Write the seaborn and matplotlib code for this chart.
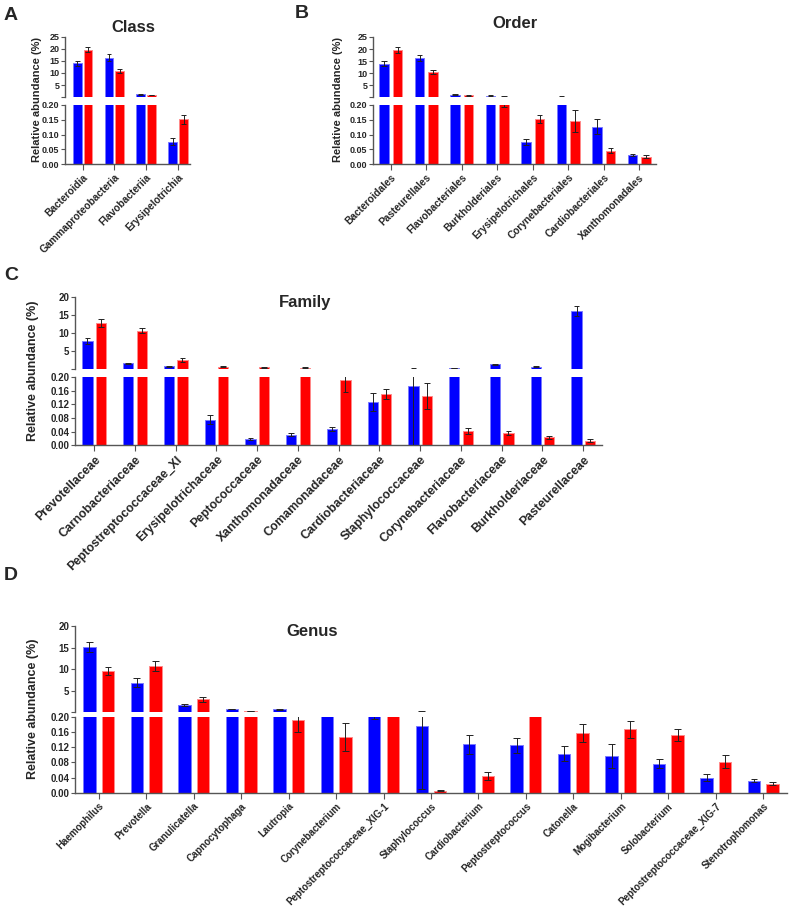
import matplotlib
matplotlib.use("Agg")
import matplotlib.pyplot as plt
import numpy as np
import pandas as pd
import seaborn as sns

# ---- data (relative abundance %, mean and SEM per group) ----
class_names = ["Bacteroidia", "Gammaproteobacteria", "Flavobacteriia", "Erysipelotrichia"]
class_blue = [14.0, 16.3, 1.2, 0.076]
class_red = [19.7, 11.0, 0.9, 0.152]
class_blue_err = [1.0, 1.4, 0.15, 0.011]
class_red_err = [1.2, 0.8, 0.1, 0.015]

order_names = ["Bacteroidales", "Pasteurellales", "Flavobacteriales", "Burkholderiales",
               "Erysipelotrichales", "Corynebacteriales", "Cardiobacteriales", "Xanthomonadales"]
order_blue = [14.0, 16.2, 1.2, 0.75, 0.076, 0.4, 0.127, 0.031]
order_red = [19.7, 10.6, 0.9, 0.3, 0.152, 0.146, 0.045, 0.025]
order_blue_err = [1.1, 1.3, 0.15, 0.1, 0.01, 0.05, 0.025, 0.003]
order_red_err = [1.2, 0.9, 0.1, 0.107, 0.014, 0.037, 0.008, 0.005]

fam_names = ["Prevotellaceae", "Carnobacteriaceae", "Peptostreptococcaceae_XI", "Erysipelotrichaceae",
             "Peptococcaceae", "Xanthomonadaceae", "Comamonadaceae", "Cardiobacteriaceae",
             "Staphylococcaceae", "Corynebacteriaceae", "Flavobacteriaceae", "Burkholderiaceae",
             "Pasteurellaceae"]
fam_blue = [7.9, 1.7, 0.85, 0.075, 0.018, 0.031, 0.048, 0.126, 0.175, 0.4, 1.4, 0.8, 16.2]
fam_red = [12.9, 10.7, 2.6, 0.8, 0.6, 0.5, 0.19, 0.15, 0.145, 0.042, 0.035, 0.023, 0.014]
fam_blue_err = [0.95, 0.2, 0.15, 0.013, 0.003, 0.004, 0.006, 0.026, 0.175, 0.05, 0.2, 0.1, 1.3]
fam_red_err = [1.0, 0.7, 0.6, 0.15, 0.1, 0.08, 0.035, 0.015, 0.038, 0.01, 0.006, 0.005, 0.005]

gen_names = ["Haemophilus", "Prevotella", "Granulicatella", "Capnocytophaga", "Lautropia",
             "Corynebacterium", "Peptostreptococcaceae_XIG-1", "Staphylococcus", "Cardiobacterium",
             "Peptostreptococcus", "Catonella", "Mogibacterium", "Solobacterium",
             "Peptostreptococcaceae_XIG-7", "Stenotrophomonas"]
gen_blue = [15.2, 6.9, 1.75, 0.8, 0.75, 0.21, 0.21, 0.175, 0.127, 0.125, 0.103, 0.097, 0.076, 0.039, 0.032]
gen_red = [9.6, 10.85, 3.1, 0.3, 0.191, 0.146, 0.22, 0.005, 0.044, 0.21, 0.157, 0.167, 0.151, 0.082, 0.024]
gen_blue_err = [1.2, 1.0, 0.15, 0.08, 0.1, 0.005, 0.015, 0.165, 0.025, 0.02, 0.02, 0.031, 0.012, 0.009, 0.003]
gen_red_err = [0.85, 1.15, 0.6, 0.05, 0.03, 0.037, 0.01, 0.001, 0.01, 0.005, 0.023, 0.023, 0.016, 0.017, 0.004]

sns.set_style("ticks")
plt.rcParams["font.family"] = ["Liberation Sans", "DejaVu Sans"]
plt.rcParams["font.weight"] = "bold"
plt.rcParams["axes.labelweight"] = "bold"

W, H = 790, 908
fig = plt.figure(figsize=(W / 100, H / 100), dpi=100)
palette = {"blue": "#0000ff", "red": "#ff0000"}
edges = {"blue": "#7a7aff", "red": "#ff8a8a"}
spine_col = "#555555"
err_col = "#222222"


def box(x0, x1, ytop, ybot):
    return [x0 / W, 1 - ybot / H, (x1 - x0) / W, (ybot - ytop) / H]


def panel(names, blue, red, blue_err, red_err, xs, up, lo, up_max, up_ticks, lo_ticks,
          xlim, width, gap, fs_x, fs_y):
    '''
    broken y axis: upper axes 0.2..up_max, lower axes 0..0.2
    '''
    n = len(names)
    df = pd.DataFrame({"taxon": names * 2,
                       "group": ["blue"] * n + ["red"] * n,
                       "value": blue + red})
    errs = {"blue": blue_err, "red": red_err}
    ax_up = fig.add_axes(box(xs[0], xs[1], up[0], up[1]))
    ax_lo = fig.add_axes(box(xs[0], xs[1], lo[0], lo[1]))
    for ax in (ax_up, ax_lo):
        sns.barplot(data=df, x="taxon", y="value", hue="group", palette=palette,
                    order=names, hue_order=["blue", "red"], width=width, gap=gap,
                    errorbar=None, legend=False, saturation=1, ax=ax)
        for p in list(ax.patches):
            xc = p.get_x() + p.get_width() / 2
            i = int(round(xc))
            grp = "blue" if xc < i else "red"
            p.set_edgecolor(edges[grp])
            p.set_linewidth(0.7)
            v, e = p.get_height(), errs[grp][i]
            cw = p.get_width() * 0.28
            # error bar as clipped lines so nothing leaks across the break
            ax.vlines(xc, v - e, v + e, color=err_col, lw=0.7, zorder=4)
            ax.hlines([v - e, v + e], xc - cw, xc + cw, color=err_col, lw=0.7, zorder=4)
        ax.set_xlim(*xlim)
        ax.set_xlabel("")
        ax.set_ylabel("")
        for s in ax.spines.values():
            s.set_color(spine_col)
            s.set_linewidth(1.0)
        ax.spines["top"].set_visible(False)
        ax.spines["right"].set_visible(False)
        ax.tick_params(axis="y", length=3, width=0.8, color=spine_col, pad=1, labelsize=fs_y)
    ax_up.set_ylim(0.2, up_max)
    ax_up.set_yticks(up_ticks)
    ax_up.set_yticklabels([""] + [f"{t:g}" for t in up_ticks[1:]])
    ax_up.spines["bottom"].set_visible(False)
    ax_up.tick_params(axis="x", bottom=False, labelbottom=False)
    ax_lo.set_ylim(0, 0.2)
    ax_lo.set_yticks(lo_ticks)
    ax_lo.set_yticklabels([f"{t:.2f}" for t in lo_ticks])
    ax_lo.set_xticks(range(n))
    ax_lo.set_xticklabels(names, rotation=45, ha="right", rotation_mode="anchor", fontsize=fs_x)
    ax_lo.tick_params(axis="x", length=4, width=0.8, color=spine_col, pad=2)
    return ax_up, ax_lo


lo_a = [0, 0.05, 0.10, 0.15, 0.20]
lo_c = [0, 0.04, 0.08, 0.12, 0.16, 0.20]

panel(class_names, class_blue, class_red, class_blue_err, class_red_err,
      (65, 190), (36.7, 96.7), (105, 164), 25, [0.2, 5, 10, 15, 20, 25], lo_a,
      (-0.55, 3.37), 0.68, 0.18, 7.3, 6.5)
panel(order_names, order_blue, order_red, order_blue_err, order_red_err,
      (373, 656), (37, 97), (105, 164), 25, [0.2, 5, 10, 15, 20, 25], lo_a,
      (-0.5, 7.47), 0.76, 0.29, 7.3, 6.5)
panel(fam_names, fam_blue, fam_red, fam_blue_err, fam_red_err,
      (75, 602), (297.3, 368.7), (377, 445.3), 20, [0.2, 5, 10, 15, 20], lo_c,
      (-0.47, 12.46), 0.66, 0.24, 8.8, 7)
panel(gen_names, gen_blue, gen_red, gen_blue_err, gen_red_err,
      (75, 787), (626, 711.7), (716.7, 792.7), 20, [0.2, 5, 10, 15, 20], lo_c,
      (-0.5, 14.5), 0.78, 0.33, 7, 7)


def ftext(x, y, s, **kw):
    fig.text(x / W, 1 - y / H, s, fontweight="bold", **kw)


for letter, x, y in [("A", 11, 15), ("B", 302, 13), ("C", 11, 275), ("D", 11, 576)]:
    ftext(x, y, letter, fontsize=14, ha="center", va="center")
for title, x, y in [("Class", 133, 27), ("Order", 515, 23), ("Family", 305, 302), ("Genus", 312, 632)]:
    ftext(x, y, title, fontsize=12, ha="center", va="center")
for x, y, fs in [(37, 100, 8), (338, 100, 8), (33, 371, 9), (33, 709, 9)]:
    ftext(x, y, "Relative abundance (%)", fontsize=fs, rotation=90, ha="center", va="center")

fig.savefig("out.png", dpi=100)
